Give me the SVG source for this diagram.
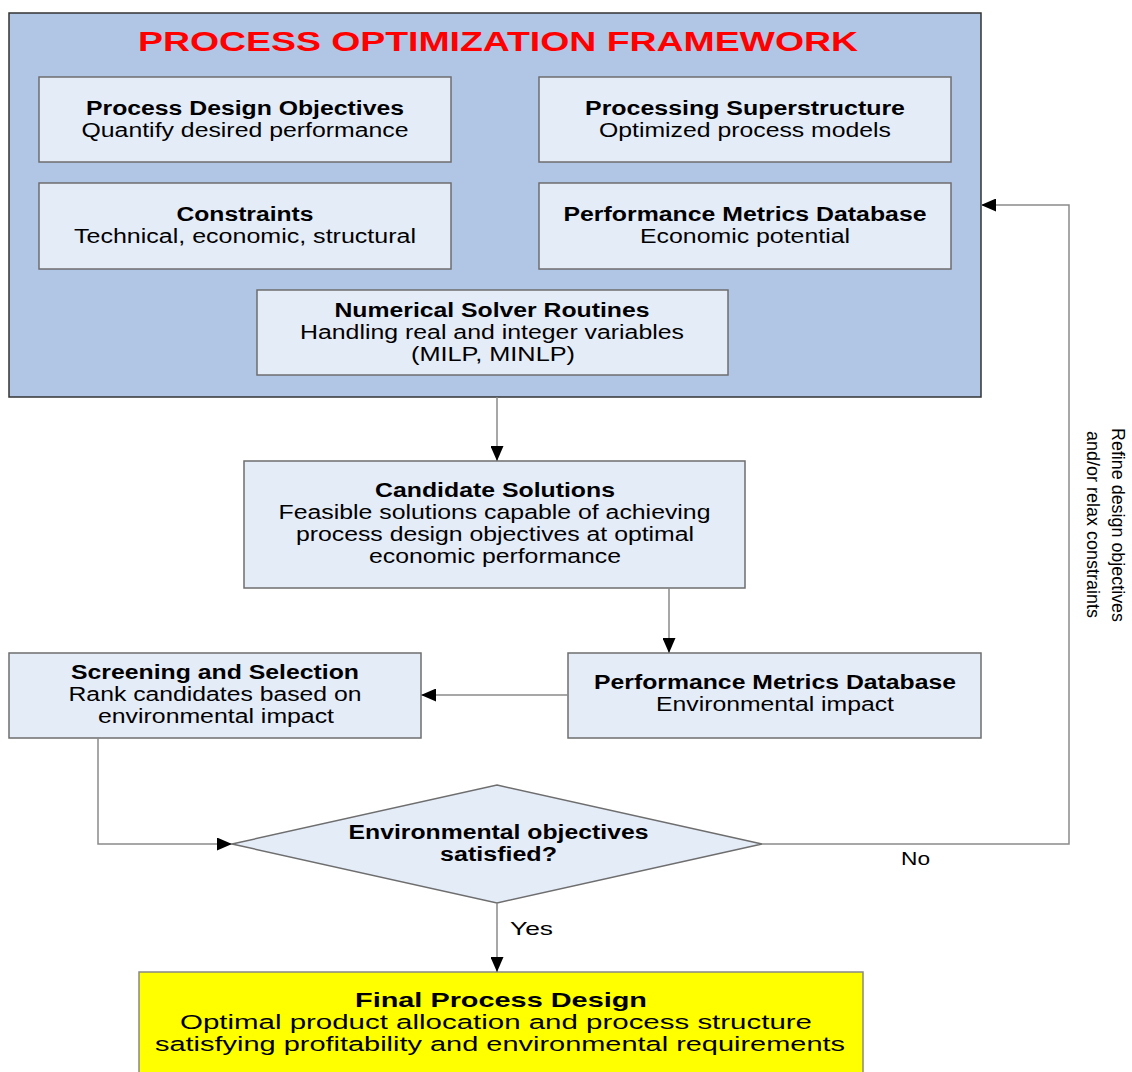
<svg xmlns="http://www.w3.org/2000/svg" width="1132" height="1072" viewBox="0 0 1132 1072">
<style>
text{font-family:"Liberation Sans",Arial,sans-serif;fill:#000;text-anchor:middle}
.t{font-size:19.5px;font-weight:bold}
.s{font-size:19.5px}
.ft{font-size:20.5px;font-weight:bold}
.fs{font-size:20.5px}
.lbl{font-size:18.5px}
.title{font-size:27px;font-weight:bold;fill:#FF0000}
.box{fill:#E4ECF8;stroke:#6E6E6E;stroke-width:1.5}
.frame{fill:#B1C5E5;stroke:#333;stroke-width:1.5}
.final{fill:#FFFF00;stroke:#888;stroke-width:1.5}
.con{fill:none;stroke:#8A8A8A;stroke-width:1.5}
</style>
<defs>
<marker id="arr" markerUnits="userSpaceOnUse" markerWidth="16" markerHeight="13" refX="15" refY="6.5" orient="auto">
<path d="M0,0 L15,6.5 L0,13 Z" fill="#000"/>
</marker>
</defs>
<rect width="1132" height="1072" fill="#FFFFFF"/>

<g id="framework">
<rect class="frame" x="9" y="13" width="972" height="384"/>
<text class="title" x="498" y="51" textLength="720" lengthAdjust="spacingAndGlyphs">PROCESS OPTIMIZATION FRAMEWORK</text>
</g>

<g id="process-design-objectives">
<rect class="box" x="39" y="77" width="412" height="85"/>
<text class="t" x="245" y="115" textLength="318" lengthAdjust="spacingAndGlyphs">Process Design Objectives</text>
<text class="s" x="245" y="137" textLength="327" lengthAdjust="spacingAndGlyphs">Quantify desired performance</text>
</g>

<g id="processing-superstructure">
<rect class="box" x="539" y="77" width="412" height="85"/>
<text class="t" x="745" y="115" textLength="320" lengthAdjust="spacingAndGlyphs">Processing Superstructure</text>
<text class="s" x="745" y="137" textLength="292" lengthAdjust="spacingAndGlyphs">Optimized process models</text>
</g>

<g id="constraints">
<rect class="box" x="39" y="183" width="412" height="86"/>
<text class="t" x="245" y="221" textLength="137" lengthAdjust="spacingAndGlyphs">Constraints</text>
<text class="s" x="245" y="243" textLength="342" lengthAdjust="spacingAndGlyphs">Technical, economic, structural</text>
</g>

<g id="pmd-economic">
<rect class="box" x="539" y="183" width="412" height="86"/>
<text class="t" x="745" y="221" textLength="363" lengthAdjust="spacingAndGlyphs">Performance Metrics Database</text>
<text class="s" x="745" y="243" textLength="210" lengthAdjust="spacingAndGlyphs">Economic potential</text>
</g>

<g id="numerical-solver">
<rect class="box" x="257" y="290" width="471" height="85"/>
<text class="t" x="492" y="317" textLength="315" lengthAdjust="spacingAndGlyphs">Numerical Solver Routines</text>
<text class="s" x="492" y="339" textLength="384" lengthAdjust="spacingAndGlyphs">Handling real and integer variables</text>
<text class="s" x="493" y="361" textLength="164" lengthAdjust="spacingAndGlyphs">(MILP, MINLP)</text>
</g>

<g id="candidate-solutions">
<rect class="box" x="244" y="461" width="501" height="127"/>
<text class="t" x="495" y="497" textLength="240" lengthAdjust="spacingAndGlyphs">Candidate Solutions</text>
<text class="s" x="494.5" y="519" textLength="432" lengthAdjust="spacingAndGlyphs">Feasible solutions capable of achieving</text>
<text class="s" x="495" y="541" textLength="398" lengthAdjust="spacingAndGlyphs">process design objectives at optimal</text>
<text class="s" x="495" y="563" textLength="252" lengthAdjust="spacingAndGlyphs">economic performance</text>
</g>

<g id="screening-selection">
<rect class="box" x="9" y="653" width="412" height="85"/>
<text class="t" x="215" y="679" textLength="288" lengthAdjust="spacingAndGlyphs">Screening and Selection</text>
<text class="s" x="215" y="701" textLength="293" lengthAdjust="spacingAndGlyphs">Rank candidates based on</text>
<text class="s" x="216" y="723" textLength="236" lengthAdjust="spacingAndGlyphs">environmental impact</text>
</g>

<g id="pmd-environmental">
<rect class="box" x="568" y="653" width="413" height="85"/>
<text class="t" x="775" y="689" textLength="362" lengthAdjust="spacingAndGlyphs">Performance Metrics Database</text>
<text class="s" x="775" y="711" textLength="238" lengthAdjust="spacingAndGlyphs">Environmental impact</text>
</g>

<g id="decision">
<polygon class="box" points="497,785 762,844 497,903 232,844"/>
<text class="t" x="498.5" y="839" textLength="300" lengthAdjust="spacingAndGlyphs">Environmental objectives</text>
<text class="t" x="498.5" y="861" textLength="117" lengthAdjust="spacingAndGlyphs">satisfied?</text>
</g>

<g id="final-process-design">
<rect class="final" x="139" y="972" width="724" height="110"/>
<text class="ft" x="501" y="1007" textLength="292" lengthAdjust="spacingAndGlyphs">Final Process Design</text>
<text class="fs" x="496" y="1029" textLength="632" lengthAdjust="spacingAndGlyphs">Optimal product allocation and process structure</text>
<text class="fs" x="500" y="1051" textLength="690" lengthAdjust="spacingAndGlyphs">satisfying profitability and environmental requirements</text>
</g>

<g id="connectors">
<path class="con" d="M497,397 L497,461" marker-end="url(#arr)"/>
<path class="con" d="M669,588 L669,653" marker-end="url(#arr)"/>
<path class="con" d="M568,695 L421,695" marker-end="url(#arr)"/>
<path class="con" d="M98,738 L98,844 L232,844" marker-end="url(#arr)"/>
<path class="con" d="M762,844 L1069,844 L1069,205 L981,205" marker-end="url(#arr)"/>
<path class="con" d="M497,903 L497,972" marker-end="url(#arr)"/>
<text class="lbl" x="915.5" y="865" textLength="29" lengthAdjust="spacingAndGlyphs">No</text>
<text class="lbl" x="531.5" y="935" textLength="43" lengthAdjust="spacingAndGlyphs">Yes</text>
<text class="lbl" transform="translate(1112,525) rotate(90)" x="0" y="0" textLength="194" lengthAdjust="spacingAndGlyphs">Refine design objectives</text>
<text class="lbl" transform="translate(1087,524.5) rotate(90)" x="0" y="0" textLength="187" lengthAdjust="spacingAndGlyphs">and/or relax constraints</text>
</g>
</svg>
